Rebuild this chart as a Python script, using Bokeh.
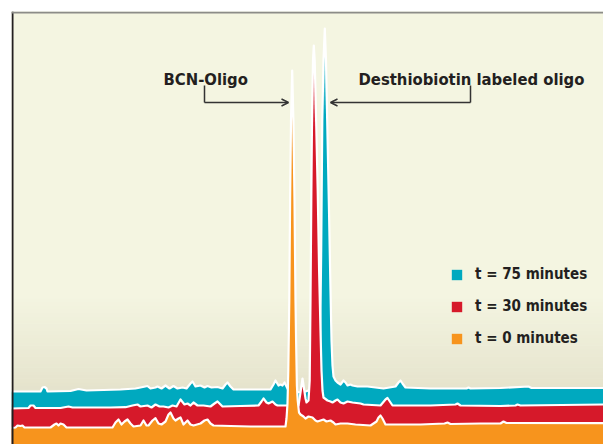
import numpy as np
from bokeh.plotting import figure
from bokeh.models import Range1d, Span, Arrow, OpenHead, Legend, LegendItem, Label
from bokeh.embed import file_html
from bokeh.resources import INLINE

# ---- data: retention position (x) and detector signal (y) ----
t75_x = [11, 40, 42, 44, 46, 47, 70, 78, 86, 120, 135, 140, 147, 150, 155, 157, 161, 165, 169, 173,
         177, 182, 186, 190, 192, 195, 200, 204, 207, 211, 217, 222, 225, 227, 230, 233, 250, 270, 273, 275,
         278, 280, 282, 284, 286, 288, 300, 305, 308, 312, 318, 319.5, 320.7, 321.8, 323, 324.3, 325.5, 326.7, 328.5, 330,
         331, 332, 333, 335, 337, 340, 343, 345, 347, 350, 352, 357, 367, 383, 395, 398, 400, 402, 405, 430,
         466, 468, 470, 500, 528, 531, 603]
t75_y = [53, 53, 57, 57.5, 56, 53, 53.5, 55.5, 54, 55, 56, 57, 58.5, 56, 57, 58, 56, 59, 56, 58.5,
         56, 57, 56, 61, 63, 58, 59, 57, 58.5, 57, 57.5, 56, 60, 62, 58, 55, 55, 55, 60, 64,
         59, 60, 59, 62, 58, 54, 52, 53, 54, 53, 52, 94, 194, 324, 384, 416, 384, 324, 234, 154,
         104, 79, 68, 64, 62, 60, 64, 62, 59, 60, 59, 58, 58, 56, 58, 62, 64, 61, 57, 56,
         56, 57, 56, 56.5, 58, 56.5, 56.5]

t30_x = [11, 28, 30, 33, 35, 60, 68, 72, 110, 125, 132, 137, 140, 147, 151, 155, 159, 163, 168, 172,
         176, 180, 184, 187, 190, 193, 197, 203, 210, 214, 217, 220, 222, 240, 258, 261, 263, 266, 268, 270,
         272, 275, 277, 286, 298, 300, 302, 303.5, 305, 306, 308, 309.2, 310, 310.8, 311.6, 312.5, 313.3, 314.2, 315.4, 317.2,
         318.6, 320, 321, 322, 323, 327, 330, 332, 335, 337, 340, 343, 347, 352, 360, 363, 380, 385, 387, 390,
         392, 430, 455, 457, 460, 500, 515, 517, 520, 603]
t30_y = [36, 36.5, 39, 39, 36.5, 36.5, 38, 37, 37, 37.3, 39, 40, 38, 39, 37, 40, 38, 38, 37, 39,
         38, 45, 40, 41, 39, 42, 39, 39, 38, 41, 43, 40, 38, 38.5, 39, 43, 46, 42, 41, 42,
         43, 40, 39, 39, 39, 52, 66, 56, 46, 42, 44, 64, 144, 244, 334, 384, 399, 384, 334, 254,
         174, 114, 74, 54, 47, 44, 43, 42, 44, 45, 42, 41, 43, 42, 41, 40, 39, 45, 46.5, 42,
         39, 39, 40, 41, 39, 38.5, 39, 40, 39, 40]

t0_x = [11, 15, 17, 20, 22, 24, 50, 54, 56, 58, 60, 63, 66, 112, 115, 118, 121, 124, 127, 130,
        133, 140, 143, 146, 148, 152, 155, 158, 161, 165, 168, 170, 173, 175, 178, 180, 183, 185, 187, 190,
        193, 200, 204, 207, 210, 213, 230, 250, 284, 285, 286, 287, 287.8, 288.8, 289.6, 290.5, 291.7, 292.9, 294, 295,
        295.6, 296.4, 297.2, 298.5, 300, 303, 305, 308, 312, 315, 317, 320, 323, 326, 330, 333, 335, 340, 347, 355,
        370, 376, 378, 380, 382, 385, 420, 444, 447, 450, 480, 500, 503, 506, 603]
t0_y = [16.7, 17, 19, 18.5, 19, 17, 17, 20, 21, 19, 21, 20, 17, 17, 22, 25, 20, 23, 25, 21,
        18, 19, 24, 19, 19, 24, 26.3, 21, 20, 23, 30, 32, 26, 24, 26, 27, 20, 22, 24, 20,
        19, 21, 24, 25, 21, 19, 18.5, 18, 18, 18, 26, 41, 74, 144, 244, 324, 374, 324, 244, 144,
        104, 59, 44, 32, 30, 28, 26, 28, 27, 24, 23, 24, 25, 23, 24, 22, 20, 21, 21, 20,
        19, 23, 27, 29, 26, 20, 20, 21, 22, 20.5, 21, 21, 23, 21.5, 21.3]

series_labels = ["t = 75 minutes", "t = 30 minutes", "t = 0 minutes"]
series_colors = ["#00a9bf", "#d6192a", "#f7941d"]

annot_texts = ["BCN-Oligo", "Desthiobiotin labeled oligo"]

FONT = "DejaVu Sans Condensed"
TXT = "#231f20"


def mix(c, t, other="#ffffff"):
    a = [int(c[i:i + 2], 16) for i in (1, 3, 5)]
    b = [int(other[i:i + 2], 16) for i in (1, 3, 5)]
    m = [round(a[k] + (b[k] - a[k]) * t) for k in range(3)]
    return "#%02x%02x%02x" % tuple(m)


X0, X1, Y0, Y1 = 11, 603, 0, 433
p = figure(width=603, height=444, output_backend="svg", toolbar_location=None,
           x_range=Range1d(X0, X1), y_range=Range1d(Y0, Y1),
           min_border_left=11, min_border_top=11, min_border_right=0, min_border_bottom=0)
p.axis.visible = False
p.grid.visible = False
p.outline_line_color = None
p.background_fill_color = "#f4f5e1"
p.border_fill_color = "#ffffff"

# background glow near the baseline
nb = 30
g_lo, g_hi = 40, 150
edges = np.linspace(g_lo, g_hi, nb + 1)
p.quad(left=X0, right=X1, bottom=Y0, top=g_lo, color="#e2dfc8")
for i in range(nb):
    t = (i + 0.5) / nb
    p.quad(left=X0, right=X1, bottom=edges[i], top=edges[i + 1] + 0.5,
           color=mix("#e2dfc8", t ** 0.9, "#f4f5e1"), line_color=None)

traces = [(t75_x, t75_y), (t30_x, t30_y), (t0_x, t0_y)]
items = []
for (xs, ys), col, lab in zip(traces, series_colors, series_labels):
    xs = np.array(xs, float)
    ys = np.array(ys, float)
    r = p.varea(x=xs, y1=ys, y2=np.zeros_like(ys), fill_color=col)
    items.append(LegendItem(label=lab, renderers=[r]))
    top = ys.max()
    fs = top - 85
    nbands = 20
    be = np.linspace(fs, top, nbands + 1)
    for i in range(nbands):
        tt = (i + 0.5) / nbands
        p.varea(x=xs, y1=np.minimum(ys, be[i + 1] + 0.6), y2=np.minimum(ys, be[i]),
                fill_color=mix(col, tt ** 1.2))
    p.line(xs, ys, line_color="white", line_width=2.2, line_join="round")

# frame edges
p.add_layout(Span(location=12, dimension="height", line_color="#231f20", line_width=2))
p.add_layout(Span(location=432, dimension="width", line_color="#8c8c88", line_width=2))

# annotations
p.add_layout(Label(x=163, y=365, text=annot_texts[0], text_font=FONT, text_font_style="bold",
                   text_font_size="16.5px", text_color=TXT, text_baseline="alphabetic"))
p.add_layout(Label(x=358, y=365, text=annot_texts[1], text_font=FONT, text_font_style="bold",
                   text_font_size="16.5px", text_color=TXT, text_baseline="alphabetic"))
p.add_layout(Arrow(end=None, x_start=204, y_start=359, x_end=204, y_end=342,
                   line_color="#333333", line_width=1.5))
p.add_layout(Arrow(end=OpenHead(size=7, line_color="#333333", line_width=1.5),
                   x_start=204, y_start=342, x_end=288, y_end=342,
                   line_color="#333333", line_width=1.5))
p.add_layout(Arrow(end=None, x_start=470, y_start=359, x_end=470, y_end=342,
                   line_color="#333333", line_width=1.5))
p.add_layout(Arrow(end=OpenHead(size=7, line_color="#333333", line_width=1.5),
                   x_start=470, y_start=342, x_end=330, y_end=342,
                   line_color="#333333", line_width=1.5))

legend = Legend(items=items, location=(439, 97), padding=0, margin=0, spacing=14,
                glyph_width=13, glyph_height=13, label_standoff=12,
                label_text_font=FONT, label_text_font_style="bold", label_text_font_size="15px",
                label_text_color=TXT, background_fill_alpha=0, border_line_color=None)
p.add_layout(legend)

open("out.html", "w").write(file_html(p, INLINE))
